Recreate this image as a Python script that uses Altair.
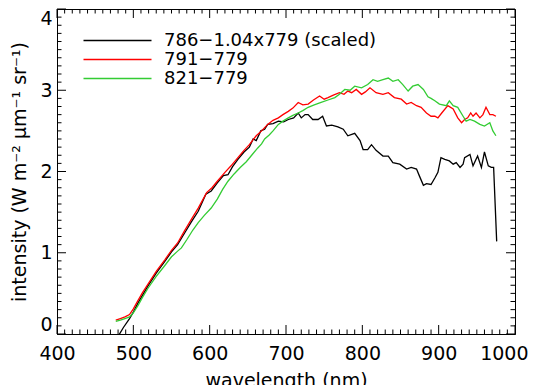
import altair as alt
import pandas as pd

# ---- data ----
series_names = ["786\u22121.04x779 (scaled)", "791\u2212779", "821\u2212779"]
series_colors = ["#000000", "#ff0000", "#33cc33"]

wl_black = [480, 487, 495, 500, 506, 519, 530, 541, 550, 558, 567, 576, 585, 595, 602, 610, 618,
            624, 630, 637, 645, 652, 657, 661, 667, 672, 676, 683, 690, 697, 703, 710, 716, 720,
            725, 729, 735, 742, 748, 753, 760, 768, 775, 781, 790, 797, 801, 807, 812, 818, 827,
            834, 840, 849, 858, 864, 871, 875, 880, 884, 890, 895, 899, 903, 908, 914, 919, 923,
            928, 932, 934, 941, 945, 951, 956, 960, 965, 969, 972, 976]
int_black = [-0.03, 0.08, 0.19, 0.27, 0.38, 0.59, 0.75, 0.89, 1.01, 1.10, 1.24, 1.38, 1.51, 1.72,
             1.76, 1.86, 1.95, 1.96, 2.06, 2.15, 2.24, 2.30, 2.40, 2.38, 2.50, 2.52, 2.58, 2.59,
             2.62, 2.61, 2.64, 2.66, 2.72, 2.66, 2.70, 2.70, 2.64, 2.64, 2.68, 2.56, 2.57, 2.55,
             2.52, 2.44, 2.47, 2.38, 2.27, 2.27, 2.33, 2.26, 2.19, 2.19, 2.11, 2.09, 2.03, 2.05,
             2.03, 1.94, 1.83, 1.85, 1.84, 1.92, 1.99, 2.17, 2.15, 2.13, 2.09, 2.11, 2.05, 2.09,
             2.17, 2.21, 2.07, 2.19, 2.05, 2.24, 2.07, 2.05, 2.05, 1.14]

wl_red = [477, 483, 489, 495, 500, 506, 512, 519, 530, 541, 550, 558, 567, 576, 585, 596, 603,
          610, 620, 628, 637, 645, 652, 661, 668, 676, 683, 690, 696, 703, 709, 716, 722, 729,
          736, 744, 750, 755, 762, 770, 776, 781, 786, 792, 799, 804, 810, 818, 827, 834, 842,
          851, 858, 864, 871, 877, 884, 890, 895, 899, 904, 912, 919, 925, 930, 934, 938, 942,
          945, 949, 954, 958, 962, 967, 971, 975]
int_red = [0.17, 0.19, 0.21, 0.24, 0.31, 0.41, 0.51, 0.61, 0.77, 0.91, 1.03, 1.12, 1.27, 1.41,
           1.55, 1.74, 1.80, 1.88, 1.99, 2.07, 2.17, 2.26, 2.33, 2.44, 2.50, 2.58, 2.63, 2.66,
           2.70, 2.74, 2.78, 2.85, 2.82, 2.83, 2.88, 2.93, 2.89, 2.91, 2.94, 2.97, 2.95, 2.99,
           2.97, 3.01, 2.95, 2.98, 3.03, 2.97, 2.95, 2.97, 2.91, 2.89, 2.83, 2.85, 2.81, 2.79,
           2.72, 2.68, 2.68, 2.66, 2.72, 2.81, 2.77, 2.66, 2.60, 2.64, 2.66, 2.72, 2.68, 2.72,
           2.66, 2.70, 2.79, 2.70, 2.70, 2.68]

wl_green = [477, 483, 489, 495, 500, 506, 512, 519, 530, 541, 550, 558, 563, 570, 578, 585, 593,
            602, 610, 617, 624, 632, 640, 648, 655, 663, 668, 672, 678, 683, 690, 696, 703, 709,
            716, 722, 729, 737, 746, 755, 764, 770, 777, 784, 790, 799, 807, 814, 820, 827, 834,
            840, 847, 853, 860, 866, 873, 880, 886, 890, 895, 901, 910, 914, 919, 925, 932, 936,
            941, 947, 954, 960, 967, 971, 975]
int_green = [0.155, 0.17, 0.19, 0.21, 0.26, 0.35, 0.45, 0.56, 0.71, 0.84, 0.95, 1.02, 1.06, 1.16,
             1.28, 1.37, 1.46, 1.55, 1.66, 1.78, 1.88, 1.97, 2.05, 2.12, 2.20, 2.29, 2.34, 2.40,
             2.45, 2.50, 2.58, 2.62, 2.66, 2.69, 2.72, 2.75, 2.79, 2.82, 2.85, 2.88, 2.91, 2.95,
             3.01, 3.00, 3.05, 3.03, 3.07, 3.13, 3.11, 3.13, 3.15, 3.11, 3.13, 3.07, 2.99, 3.05,
             3.07, 3.01, 2.92, 2.90, 2.87, 2.83, 2.81, 2.87, 2.81, 2.79, 2.68, 2.62, 2.64, 2.62,
             2.58, 2.56, 2.60, 2.50, 2.44]

x_major = [400, 500, 600, 700, 800, 900, 1000]
x_minor = [v for v in range(400, 1001, 10) if v % 100 != 0]
y_major = [0, 1, 2, 3, 4]
y_minor = [i / 10 for i in range(0, 41) if i % 10 != 0]

# ---- build tables ----
rows = []
for name, wls, vals in zip(series_names, [wl_black, wl_red, wl_green], [int_black, int_red, int_green]):
    for w, v in zip(wls, vals):
        rows.append({"series": name, "wavelength": w, "intensity": v})
df = pd.DataFrame(rows)

W, H = 458, 325
FONT = "DejaVu Sans"
MAJ, MIN = 9, 4.5
XTITLE = "wavelength (nm)"
YTITLE = "intensity (W m\u207b\u00b2 \u03bcm\u207b\u00b9 sr\u207b\u00b9)"

xscale = alt.Scale(domain=[400, 1000], nice=False, zero=False)
yscale = alt.Scale(domain=[0, 4], nice=False, zero=False)
# the last x label is kept inside the page's right edge
xaxis = alt.Axis(values=x_major, title=XTITLE, ticks=False, grid=False, labelFlush=False,
                 labelAlign={"expr": "datum.value >= 1000 ? 'right' : 'center'"},
                 labelOffset={"expr": "datum.value >= 1000 ? 13 : 0"},
                 labelPadding=10, titlePadding=8, format="d")
yaxis = alt.Axis(values=y_major, title=YTITLE, ticks=False, grid=False, labelFlush=True,
                 labelPadding=5, titlePadding=10, format="d")

lines = alt.Chart(df).mark_line(strokeWidth=1.3, clip=True).encode(
    x=alt.X("wavelength:Q", scale=xscale, axis=xaxis, title=XTITLE),
    y=alt.Y("intensity:Q", scale=yscale, axis=yaxis, title=YTITLE),
    color=alt.Color("series:N", scale=alt.Scale(domain=series_names, range=series_colors),
                    legend=alt.Legend(orient="none", legendX=51, legendY=22, title=None,
                                      symbolType="M-4,0H4", symbolSize=289,
                                      symbolStrokeWidth=1.3, labelFont=FONT, labelFontSize=18,
                                      labelOffset=37, labelLimit=0, rowPadding=0, padding=0)),
    detail="series:N",
    order="wavelength:Q",
)

def xticks(vals, length):
    d = pd.DataFrame({"wavelength": vals})
    enc_x = alt.X("wavelength:Q", scale=xscale, axis=xaxis, title=XTITLE)
    bottom = alt.Chart(d).mark_rule(color="black", strokeWidth=1).encode(
        x=enc_x, y=alt.value(H), y2=alt.value(H - length))
    top = alt.Chart(d).mark_rule(color="black", strokeWidth=1).encode(
        x=enc_x, y=alt.value(0), y2=alt.value(length))
    return [bottom, top]

def yticks(vals, length):
    d = pd.DataFrame({"intensity": vals})
    enc_y = alt.Y("intensity:Q", scale=yscale, axis=yaxis, title=YTITLE)
    left = alt.Chart(d).mark_rule(color="black", strokeWidth=1).encode(
        y=enc_y, x=alt.value(0), x2=alt.value(length))
    right = alt.Chart(d).mark_rule(color="black", strokeWidth=1).encode(
        y=enc_y, x=alt.value(W), x2=alt.value(W - length))
    return [left, right]

layers = [lines] + xticks(x_major, MAJ) + xticks(x_minor, MIN) + yticks(y_major, MAJ) + yticks(y_minor, MIN)

chart = alt.layer(*layers).properties(
    width=W, height=H, padding={"left": 2, "top": 0, "right": 0, "bottom": 0},
    background="white"
).configure_view(stroke="black", strokeWidth=1).configure_axis(
    domainColor="black", domainWidth=1, labelFont=FONT, labelFontSize=19, labelColor="black",
    titleFont=FONT, titleFontSize=19, titleFontWeight="normal", titleColor="black"
)

chart.save("out.html", embed_options={"renderer": "svg", "actions": False})
